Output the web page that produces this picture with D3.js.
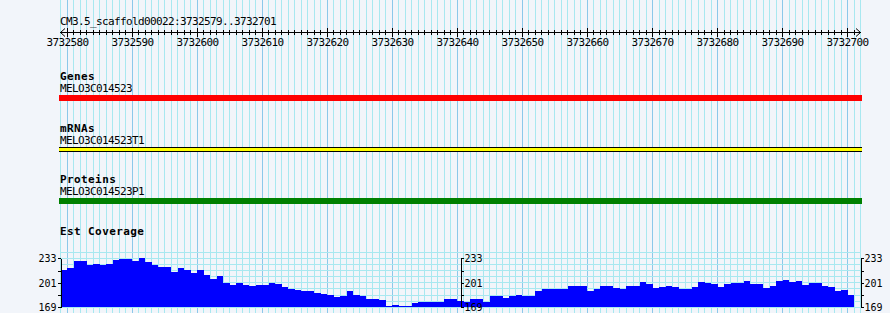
<!DOCTYPE html>
<html><head><meta charset="utf-8">
<script src="https://cdn.jsdelivr.net/npm/d3@7"></script>
<style>html,body{margin:0;padding:0;background:#f2f5fa;} svg{display:block;}</style>
</head><body><svg id="c" width="890" height="313"></svg>
<script>
// ---------- data ----------
const refName = "CM3.5_scaffold00022";
const viewStart = 3732579;
const viewEnd = 3732701;
const rulerTicks = [3732580, 3732590, 3732600, 3732610, 3732620, 3732630, 3732640,
                    3732650, 3732660, 3732670, 3732680, 3732690, 3732700];
const trackLabels = ["Genes", "mRNAs", "Proteins"];
const featureNames = ["MELO3C014523", "MELO3C014523T1", "MELO3C014523P1"];
const coverageLabel = "Est Coverage";
const coverageStart = 3732579;
const coverage = [
  218, 220, 229, 229, 224, 225, 224, 225, 231, 232,
  232, 230, 233, 228, 224, 222, 222, 215, 220, 218,
  214, 218, 211, 206, 210, 201, 198, 201, 198, 197,
  198, 198, 201, 199, 195, 193, 191, 190, 190, 188,
  187, 185, 182, 184, 190, 185, 184, 180, 180, 179,
  171, 172, 171, 171, 174, 176, 176, 176, 176, 180,
  180, 177, 176, 180, 180, 176, 184, 184, 181, 184,
  185, 184, 184, 190, 193, 193, 193, 193, 197, 197,
  197, 190, 193, 197, 197, 194, 193, 197, 197, 202,
  200, 194, 196, 197, 196, 193, 193, 196, 202, 201,
  200, 196, 200, 201, 201, 203, 200, 200, 194, 197,
  203, 205, 202, 203, 198, 201, 201, 197, 196, 190,
  192, 185
];
const yMin = 169, yMax = 233;
const yTicks = [169, 201, 233];
const yMinorTicks = [185, 217];
const yGridStep = 8;

// ---------- layout ----------
const W = 890, H = 313;
const mono = "'DejaVu Sans Mono', monospace";
const svg = d3.select("#c");
const x = d3.scaleLinear().domain([viewStart, viewEnd + 1]).range([60.5, 860.7]);
const panelL = 59, panelR = 862;
const y = d3.scaleLinear().domain([yMin, yMax]).range([307.3, 258.3]);
const px = v => Math.floor(v) + 0.5;

svg.append("rect").attr("width", W).attr("height", H).attr("fill", "#f2f5fa");

// vertical grid
const gridPos = d3.range(viewStart, viewEnd + 2);
const g = svg.append("g").attr("shape-rendering", "crispEdges");
g.selectAll("line.minor").data(gridPos.filter(p => p % 10 !== 0)).join("line")
  .attr("x1", p => px(x(p))).attr("x2", p => px(x(p)))
  .attr("y1", 0).attr("y2", H).attr("stroke", "#a8e8f0");
g.selectAll("line.major").data(gridPos.filter(p => p % 10 === 0)).join("line")
  .attr("x1", p => px(x(p))).attr("x2", p => px(x(p)))
  .attr("y1", 0).attr("y2", H).attr("stroke", "#8cc8ea");

// horizontal grid in coverage panel
const hGrid = d3.range(yMin, yMax + 2 * yGridStep, yGridStep);
g.selectAll("line.h").data(hGrid).join("line")
  .attr("x1", 60).attr("x2", 861)
  .attr("y1", v => px(y(v))).attr("y2", v => px(y(v))).attr("stroke", "#a8e8f0");

// ---------- ruler ----------
svg.append("text").attr("x", 60).attr("y", 25)
  .attr("font-family", mono).attr("font-size", 11).attr("letter-spacing", "-0.62px")
  .text(`${refName}:${viewStart}..${viewEnd}`);
const r = svg.append("g").attr("stroke", "#000").attr("shape-rendering", "crispEdges");
r.append("line").attr("x1", 60).attr("x2", 861).attr("y1", 32.5).attr("y2", 32.5);
const minorRuler = d3.range(viewStart + 1, viewEnd + 1).filter(p => !rulerTicks.includes(p));
r.selectAll("line.mt").data(minorRuler).join("line")
  .attr("x1", p => px(x(p))).attr("x2", p => px(x(p))).attr("y1", 30).attr("y2", 35);
r.selectAll("line.Mt").data(rulerTicks).join("line")
  .attr("x1", p => px(x(p))).attr("x2", p => px(x(p))).attr("y1", 28).attr("y2", 37);
svg.append("path").attr("d", "M65,28.5L60.5,32.5L65,36.5").attr("fill", "none").attr("stroke", "#000");
svg.append("path").attr("d", "M856,28.5L860.5,32.5L856,36.5").attr("fill", "none").attr("stroke", "#000");
svg.selectAll("text.rt").data(rulerTicks).join("text")
  .attr("x", p => px(x(p))).attr("y", 46).attr("text-anchor", "middle")
  .attr("font-family", mono).attr("font-size", 11).attr("letter-spacing", "-0.62px")
  .text(p => p);

// ---------- feature tracks ----------
const labelY = [80, 132, 183];
const nameY = [92, 144, 195];
trackLabels.forEach((t, i) => {
  svg.append("text").attr("x", 60).attr("y", labelY[i])
    .attr("font-family", mono).attr("font-size", 11).attr("font-weight", "bold")
    .attr("letter-spacing", "0.4px").text(t);
  svg.append("text").attr("x", 60).attr("y", nameY[i])
    .attr("font-family", mono).attr("font-size", 11).attr("letter-spacing", "-0.62px")
    .text(featureNames[i]);
});
const fx0 = Math.min(panelL, x(viewStart) - 1.5), fx1 = Math.max(panelR, x(viewEnd + 1) + 1.3);
const f = svg.append("g").attr("shape-rendering", "crispEdges");
f.append("rect").attr("x", fx0).attr("y", 95).attr("width", fx1 - fx0).attr("height", 6).attr("fill", "#ff0000");
f.append("rect").attr("x", fx0).attr("y", 147).attr("width", fx1 - fx0).attr("height", 5).attr("fill", "#ffff00");
f.append("line").attr("x1", fx0).attr("x2", fx1).attr("y1", 147.5).attr("y2", 147.5).attr("stroke", "#000");
f.append("line").attr("x1", fx0).attr("x2", fx1).attr("y1", 151.5).attr("y2", 151.5).attr("stroke", "#000");
f.append("rect").attr("x", fx0).attr("y", 198).attr("width", fx1 - fx0).attr("height", 6).attr("fill", "#008000");

// ---------- coverage ----------
svg.append("text").attr("x", 60).attr("y", 235)
  .attr("font-family", mono).attr("font-size", 11).attr("font-weight", "bold")
  .attr("letter-spacing", "0.4px").text(coverageLabel);
const pts = coverage.map((v, i) => ({p: coverageStart + i, v}));
pts.push({p: coverageStart + coverage.length, v: coverage[coverage.length - 1]});
const area = d3.area().x(d => x(d.p)).y0(y(yMin)).y1(d => y(d.v)).curve(d3.curveStepAfter);
svg.append("path").datum(pts).attr("d", area).attr("fill", "#0000ff").attr("shape-rendering", "crispEdges");

const allTicks = [...yTicks, ...yMinorTicks].sort((a, b) => a - b);
function styleAxis(sel) {
  sel.attr("font-family", mono).attr("font-size", 10);
  sel.selectAll("path,line").attr("stroke", "#000").attr("shape-rendering", "crispEdges");
  sel.selectAll("text").attr("fill", "#000");
}
const fmt = d => yTicks.includes(d) ? d : "";
svg.append("g").attr("transform", "translate(60.5,0)")
  .call(d3.axisLeft(y).tickValues(allTicks).tickSize(3).tickSizeOuter(0).tickPadding(1).tickFormat(fmt))
  .call(styleAxis);
[460.5, 860.5].forEach(ax => {
  svg.append("g").attr("transform", `translate(${ax},0)`)
    .call(d3.axisRight(y).tickValues(allTicks).tickSize(3).tickSizeOuter(0).tickPadding(1).tickFormat(fmt))
    .call(styleAxis);
});
</script></body></html>
